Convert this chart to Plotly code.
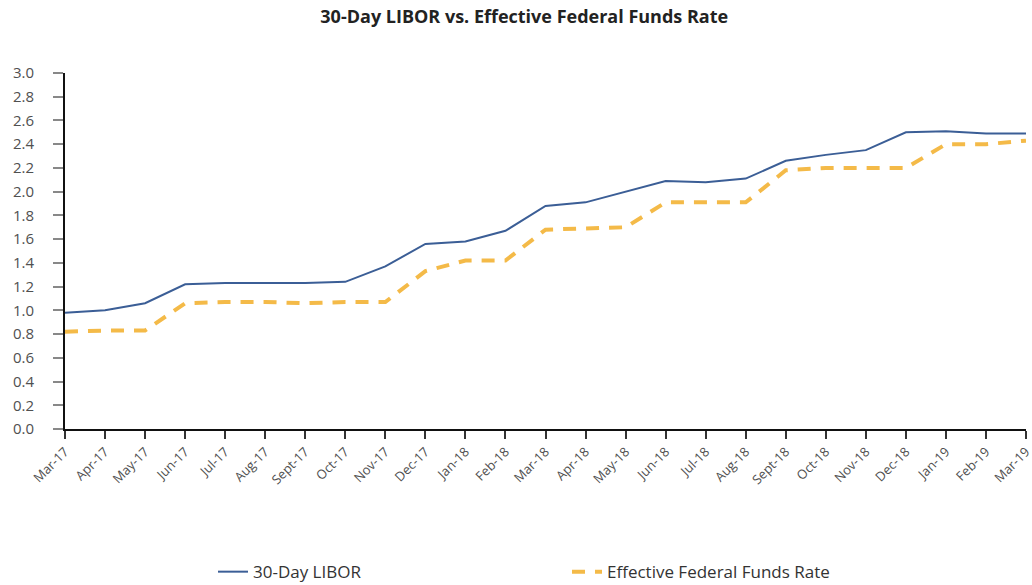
import plotly.graph_objects as go

months = ["Mar-17", "Apr-17", "May-17", "Jun-17", "Jul-17", "Aug-17", "Sept-17", "Oct-17",
          "Nov-17", "Dec-17", "Jan-18", "Feb-18", "Mar-18", "Apr-18", "May-18", "Jun-18",
          "Jul-18", "Aug-18", "Sept-18", "Oct-18", "Nov-18", "Dec-18", "Jan-19", "Feb-19", "Mar-19"]
libor = [0.98, 1.00, 1.06, 1.22, 1.23, 1.23, 1.23, 1.24, 1.37, 1.56, 1.58, 1.67, 1.88,
         1.91, 2.00, 2.09, 2.08, 2.11, 2.26, 2.31, 2.35, 2.50, 2.51, 2.49, 2.49]
effr = [0.82, 0.83, 0.83, 1.06, 1.07, 1.07, 1.06, 1.07, 1.07, 1.33, 1.42, 1.42, 1.68,
        1.69, 1.70, 1.91, 1.91, 1.91, 2.18, 2.20, 2.20, 2.20, 2.40, 2.40, 2.43]
y_ticks = [0.0, 0.2, 0.4, 0.6, 0.8, 1.0, 1.2, 1.4, 1.6, 1.8, 2.0, 2.2, 2.4, 2.6, 2.8, 3.0]

fig = go.Figure()
fig.add_trace(go.Scatter(x=months, y=libor, mode="lines", name="30-Day LIBOR",
                         line=dict(color="#3B5E96", width=2)))
fig.add_trace(go.Scatter(x=months, y=effr, mode="lines", name="Effective Federal Funds Rate",
                         line=dict(color="#F4BA48", width=4, dash="13px,10px")))

fig.update_layout(
    width=1032, height=585,
    paper_bgcolor="white", plot_bgcolor="white",
    margin=dict(l=65, r=6, t=73, b=156, autoexpand=False),
    font=dict(family="Open Sans, sans-serif", color="#555555", size=13),
    title=dict(text="<b>30-Day LIBOR vs. Effective Federal Funds Rate</b>", x=0.508, xanchor="center",
               y=0.972, yanchor="middle", font=dict(size=18, color="#222222")),
    showlegend=True,
    legend=dict(orientation="h", x=0.154, y=-0.402, xanchor="left", yanchor="middle",
                font=dict(size=17, color="#333333"), entrywidth=309),
    xaxis=dict(type="category", range=[0, 24], automargin=False, showline=True,
               linecolor="#111111", linewidth=2,
               ticks="outside", ticklen=8, tickcolor="#333333", tickwidth=1.5, tickangle=-45,
               showgrid=False, zeroline=False, tickfont=dict(size=13, color="#505050")),
    yaxis=dict(range=[0, 3.0], automargin=False, tickvals=y_ticks,
               ticktext=[f"{v:.1f}" for v in y_ticks],
               showline=True, linecolor="#111111", linewidth=2,
               ticks="outside", ticklen=10, tickcolor="#888888", tickwidth=1.5,
               ticklabelstandoff=16,
               showgrid=False, zeroline=False, tickfont=dict(size=15, color="#505050")),
)

fig.write_html("out.html", config={"displayModeBar": False},
               post_script="document.body.style.margin='0';document.body.style.overflow='hidden';")
